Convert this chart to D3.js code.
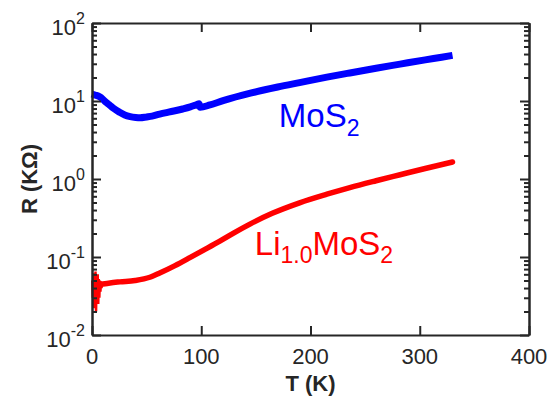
<!DOCTYPE html>
<html>
<head>
<meta charset="utf-8">
<script src="https://cdn.jsdelivr.net/npm/d3@7"></script>
<style>
  body { margin: 0; background: #fff; }
  text { font-family: "Liberation Sans", Arial, sans-serif; fill: #262626; }
</style>
</head>
<body>
<div id="chart"></div>
<script>
// MoS2 (blue) – T in K, R in kOhm
const mosT = [0, 2, 4, 7, 10, 13, 16, 20, 25, 30, 35, 40, 44, 50, 55, 62, 70, 76, 83, 90, 96, 98,
              99, 108, 120, 145, 170, 190, 215, 236, 260, 282, 305, 320, 330];
const mosR = [12.3, 12.0, 11.8, 11.3, 10.5, 9.6, 8.9, 8.0, 7.2, 6.6, 6.3, 6.15, 6.1, 6.25, 6.4, 6.8, 7.2, 7.5, 7.9, 8.4, 9.0, 9.2,
              8.3, 8.9, 10.1, 12.6, 15.1, 17.2, 20.2, 22.9, 26.3, 29.7, 33.7, 36.4, 38.4];

// Li1.0MoS2 (red): noisy low-T part, then smooth part
const liNoiseT = [0.2, 0.7, 1.2, 1.7, 2.2, 2.7, 3.2, 3.7, 4.2, 4.7, 5.2, 5.7, 6.2, 6.7, 7.2, 7.7, 8.2, 8.7, 9.2, 10];
const liNoiseR = [0.05, 0.03, 0.062, 0.022, 0.055, 0.028, 0.065, 0.02, 0.05, 0.035, 0.06, 0.025, 0.052, 0.03, 0.05, 0.036, 0.048, 0.04, 0.046, 0.045];
const liT = [10, 16.5, 25.6, 39.4, 53, 62, 76, 90, 103, 117, 130, 145, 165, 190, 215, 236, 260, 282, 305, 330];
const liR = [0.045, 0.0465, 0.048, 0.05, 0.055, 0.0624, 0.0776, 0.0989, 0.1245, 0.16, 0.204, 0.266, 0.363, 0.495, 0.638, 0.776, 0.95, 1.135, 1.365, 1.65];

const xTicks = [0, 100, 200, 300, 400];
const yExps = [-2, -1, 0, 1, 2];

const W = 549, H = 398,
      margin = {top: 23, right: 20, bottom: 63, left: 92},
      width = W - margin.left - margin.right,
      height = H - margin.top - margin.bottom;

const svg = d3.select('#chart').append('svg')
    .attr('width', W)
    .attr('height', H)
  .append('g')
    .attr('transform', 'translate(' + margin.left + ',' + margin.top + ')');

const x = d3.scaleLinear().domain([0, 400]).range([0, width]);
const y = d3.scaleLog().domain([0.01, 100]).range([height, 0]);

const majors = yExps.map(e => Math.pow(10, e));
const minors = [];
yExps.slice(0, -1).forEach(e => {
  for (let k = 2; k <= 9; k++) minors.push(k * Math.pow(10, e));
});

// curves
const smooth = d3.line().x(d => x(d[0])).y(d => y(d[1])).curve(d3.curveMonotoneX);
const raw = d3.line().x(d => x(d[0])).y(d => y(d[1]));

svg.append('path')
  .datum(liNoiseT.map((t, i) => [t, liNoiseR[i]]))
  .attr('d', raw)
  .attr('fill', 'none')
  .attr('stroke', '#ff0000')
  .attr('stroke-width', 2.5);
svg.append('path')
  .datum(liT.map((t, i) => [t, liR[i]]))
  .attr('d', smooth)
  .attr('fill', 'none')
  .attr('stroke', '#ff0000')
  .attr('stroke-width', 5.5)
  .attr('stroke-linecap', 'round');
svg.append('path')
  .datum(mosT.map((t, i) => [t, mosR[i]]))
  .attr('d', smooth)
  .attr('fill', 'none')
  .attr('stroke', '#0000ff')
  .attr('stroke-width', 7)
  .attr('stroke-linejoin', 'round');

// axes (ticks pointing inward)
const style = g => {
  g.selectAll('path, line').attr('stroke', '#262626').attr('stroke-width', 2);
  g.selectAll('text').remove();
};
svg.append('g').attr('transform', 'translate(0,' + height + ')')
  .call(d3.axisBottom(x).tickValues(xTicks).tickSize(-9).tickSizeOuter(0)).call(style);
svg.append('g')
  .call(d3.axisTop(x).tickValues(xTicks).tickSize(-9).tickSizeOuter(0)).call(style);
svg.append('g')
  .call(d3.axisLeft(y).tickValues(majors).tickSize(-9).tickSizeOuter(0)).call(style);
svg.append('g')
  .call(d3.axisLeft(y).tickValues(minors).tickSize(-5).tickSizeOuter(0)).call(style);
svg.append('g').attr('transform', 'translate(' + width + ',0)')
  .call(d3.axisRight(y).tickValues(majors).tickSize(-9).tickSizeOuter(0)).call(style);
svg.append('g').attr('transform', 'translate(' + width + ',0)')
  .call(d3.axisRight(y).tickValues(minors).tickSize(-5).tickSizeOuter(0)).call(style);

// tick labels
svg.selectAll('.xlab').data(xTicks).enter().append('text')
  .attr('x', d => x(d))
  .attr('y', height + 29)
  .attr('text-anchor', 'middle')
  .style('font-size', '22px')
  .text(d => d);

const ylab = svg.selectAll('.ylab').data(yExps).enter().append('text')
  .attr('x', -7)
  .attr('y', d => y(Math.pow(10, d)) + 12)
  .attr('text-anchor', 'end')
  .style('font-size', '22px');
ylab.append('tspan').text('10');
ylab.append('tspan').attr('dy', -11).style('font-size', '16px').text(d => d < 0 ? '-' + (-d) : d);

// axis titles
svg.append('text')
  .attr('x', width / 2)
  .attr('y', height + 56)
  .attr('text-anchor', 'middle')
  .style('font-size', '22px')
  .style('font-weight', 'bold')
  .text('T (K)');
svg.append('text')
  .attr('transform', 'rotate(-90)')
  .attr('x', -height / 2)
  .attr('y', -55)
  .attr('text-anchor', 'middle')
  .style('font-size', '22px')
  .style('font-weight', 'bold')
  .text('R (KΩ)');

// curve labels
const l1 = svg.append('text')
  .attr('x', x(171)).attr('y', y(4.64))
  .style('font-size', '33px')
  .style('fill', '#0000ff');
l1.append('tspan').text('MoS');
l1.append('tspan').attr('dy', 9).style('font-size', '23px').text('2');

const l2 = svg.append('text')
  .attr('x', x(149)).attr('y', y(0.106))
  .style('font-size', '33px')
  .style('fill', '#ff0000');
l2.append('tspan').text('Li');
l2.append('tspan').attr('dy', 8).style('font-size', '23px').text('1.0');
l2.append('tspan').attr('dy', -8).text('MoS');
l2.append('tspan').attr('dy', 8).style('font-size', '23px').text('2');
</script>
</body>
</html>
